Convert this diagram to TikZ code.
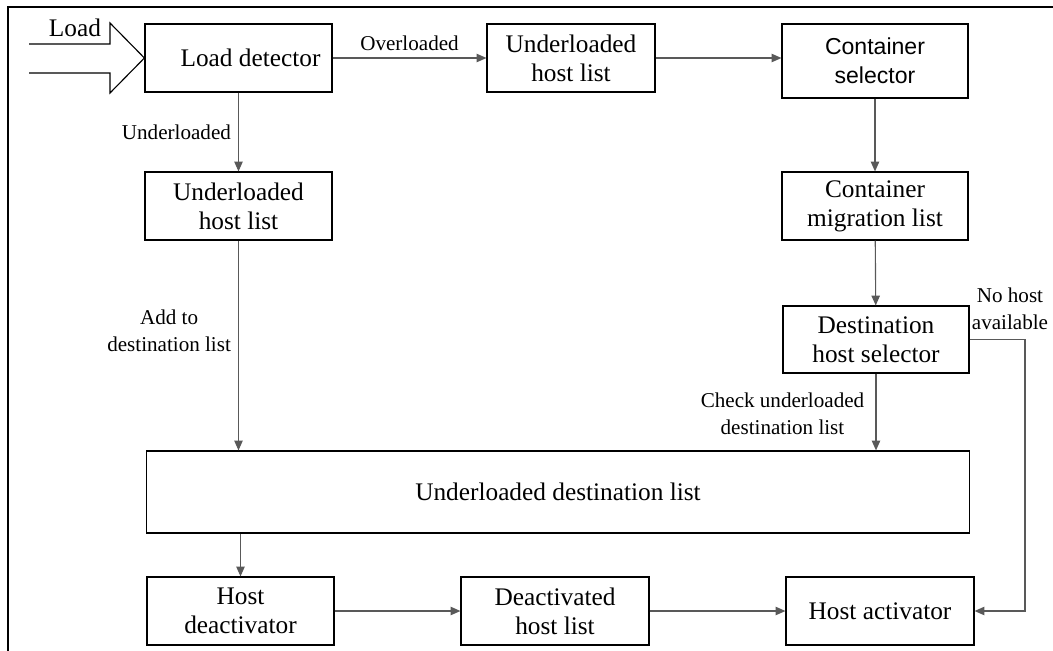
\documentclass[tikz,border=0pt]{standalone}
\usepackage{fontspec}
\setmainfont{Liberation Serif}
\newfontfamily\arialfont{Liberation Sans}
\usetikzlibrary{arrows.meta}
\tikzset{blk/.style={draw,line width=0.8pt,align=center,inner sep=0pt,font=\fontsize{18}{20.5}\selectfont},
  lnk/.style={draw=black!65,line width=0.8pt,-{Triangle[length=7pt,width=6pt]}},
  lbl/.style={align=center,inner sep=0pt,font=\fontsize{15}{19}\selectfont}}

\begin{document}
\begin{tikzpicture}[x=0.025cm,y=-0.025cm]
\useasboundingbox (0,0) rectangle (1053,651);
\draw[line width=0.8pt] (8,651) -- (8,7) -- (1053,7);
% boxes
\node[blk,minimum width=4.675cm,minimum height=1.7cm] (det) at (238.5,58) {\hspace*{0.6cm}Load detector};
\node[blk,minimum width=4.2cm,minimum height=1.7cm] (ovl) at (571,58) {Underloaded\\host list};
\node[blk,minimum width=4.65cm,minimum height=1.85cm,font=\arialfont\fontsize{16.4}{20.5}\selectfont] (sel) at (875,61) {Container\\selector};
\node[blk,minimum width=4.675cm,minimum height=1.7cm] (ull) at (238.5,206) {Underloaded\\host list};
\node[blk,minimum width=4.65cm,minimum height=1.7cm] (mig) at (875,206) {Container\\migration list};
\node[blk,minimum width=4.65cm,minimum height=1.675cm] (dst) at (876,339.5) {Destination\\host selector};
\node[blk,minimum width=20.55cm,minimum height=2.05cm] (udl) at (558,492) {Underloaded destination list};
\node[blk,minimum width=4.675cm,minimum height=1.7cm] (deact) at (240.5,611) {Host\\deactivator};
\node[blk,minimum width=4.7cm,minimum height=1.7cm] (dhl) at (555,611) {Deactivated\\host list};
\node[blk,minimum width=4.7cm,minimum height=1.7cm] (act) at (880,611) {Host activator};
\coordinate (rt) at (1025,611);
% load input
\draw[line width=0.8pt] (29,44) -- (110,44) -- (110,23) -- (det.west) -- (110,93) -- (110,73) -- (29,73);
\node[font=\fontsize{18}{20}\selectfont,anchor=base,inner sep=0pt] (ld) at (75,36) {Load};
% connectors
\draw[lnk] (det) -- node[lbl,above=5pt] (ovlab) {Overloaded} (ovl);
\draw[lnk] (ovl) -- (ovl -| sel.west);
\draw[lnk] (det) -- node[lbl,left=5pt,pos=0.5] (ulab) {Underloaded} (ull);
\draw[lnk] (sel) -- (mig);
\draw[lnk] (mig) -- (dst);
\draw[lnk] (ull) -- node[lbl,left=5pt,pos=0.43] (addlab) {Add to\\destination list} (ull |- udl.north);
\draw[lnk] (dst) -- node[lbl,left=8pt,pos=0.52] (chklab) {Check underloaded\\destination list} (dst |- udl.north);
\draw[lnk] (deact |- udl.south) -- (deact);
\draw[lnk] (deact) -- (dhl);
\draw[lnk] (dhl) -- (act);
\draw[lnk] (dst.east) -| (rt) -- (act.east);
\node[lbl] (nolab) at (1010,309) {No host\\available};
\end{tikzpicture}
\end{document}
